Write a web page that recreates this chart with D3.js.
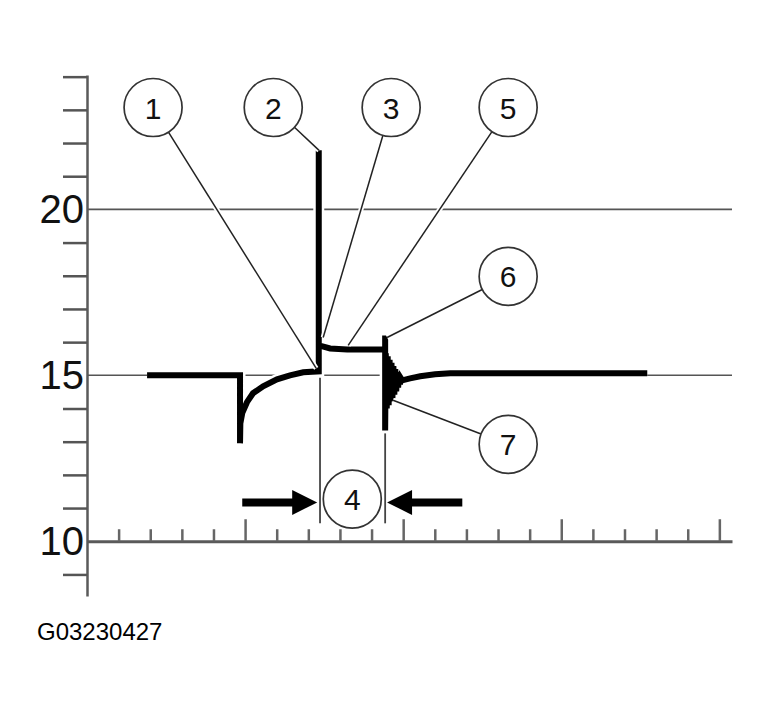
<!DOCTYPE html>
<html>
<head>
<meta charset="utf-8">
<script src="https://cdn.jsdelivr.net/npm/d3@7"></script>
<style>
  body { margin: 0; background: #fff; }
  svg { display: block; }
</style>
</head>
<body>
<div id="container"></div>
<script>
var width = 770, height = 717;

// axis ticks / labels
var yMinor = [9, 11, 12, 13, 14, 16, 17, 18, 19, 21, 22, 23, 24];
var yLabels = [10, 15, 20];
var gridVals = [15, 20];
var xMinor = [1, 2, 3, 4, 6, 7, 8, 9, 11, 12, 13, 14, 16, 17, 18, 19];
var xMajor = [5, 10, 15, 20];

// voltage trace (time in tick units, volts)
var traceT = [1.90, 4.84, 4.84, 4.85, 4.91, 5.06, 5.25, 5.57, 6.01, 6.42, 6.84, 7.33, 7.33, 7.33,
              7.45, 7.69, 8.23, 9.27, 9.43, 9.43, 9.43,
              9.45, 9.48, 9.51, 9.54, 9.57, 9.60, 9.63, 9.66, 9.69, 9.72, 9.75, 9.78, 9.81, 9.84, 9.87, 9.90, 9.93,
              9.97, 10.22, 10.54, 11.01, 11.49, 17.72];
var traceV = [15.0, 15.0, 12.95, 13.55, 13.86, 14.19, 14.46, 14.67, 14.88, 15.0, 15.09, 15.12, 21.78, 15.9,
              15.87, 15.81, 15.78, 15.78, 15.78, 16.2, 13.34,
              15.66, 14.0, 15.57, 14.1, 15.47, 14.21, 15.38, 14.31, 15.28, 14.42, 15.19, 14.52, 15.1, 14.63, 15.0, 14.73, 14.91,
              14.85, 14.91, 14.97, 15.03, 15.06, 15.06];

// numbered callouts: bubble centre and the point it points at
var calloutLabels = ["1", "2", "3", "5", "6", "7"];
var calloutAt = [[2.09, 23.07], [5.89, 23.07], [9.62, 23.07], [13.32, 23.07], [13.32, 17.98], [13.32, 12.92]];
var calloutTo = [[7.25, 15.21], [7.34, 21.78], [7.47, 16.14], [8.26, 15.9], [9.49, 16.14], [9.68, 14.25]];

// period marker (4)
var markerT = [7.37, 9.43];
var markerTop = [14.93, 13.25];
var markerBottom = 10.54;
var periodLabel = "4";
var periodAt = [8.39, 11.27];
var arrowV = 11.17;
var arrowLeft = [4.91, 7.28];
var arrowRight = [11.87, 9.49];

var figId = "G03230427";

var svg = d3.select("#container").append("svg")
  .attr("width", width)
  .attr("height", height);
svg.append("rect").attr("width", width).attr("height", height).attr("fill", "#fff");

var x = d3.scaleLinear().domain([0, 20.4]).range([87, 732]);
var y = d3.scaleLinear().domain([8.35, 24.05]).range([596, 75]);

// grid lines
svg.selectAll(".grid")
  .data(gridVals)
  .enter().append("line")
  .attr("class", "grid")
  .attr("x1", x(0)).attr("x2", x(20.4))
  .attr("y1", d => y(d)).attr("y2", d => y(d))
  .attr("stroke", "#555").attr("stroke-width", 1.6);

// left axis
var yAxis = svg.append("g")
  .attr("transform", "translate(" + x(0) + ",0)")
  .call(d3.axisLeft(y).tickValues(yMinor).tickSize(24).tickSizeOuter(0).tickFormat(""));
yAxis.select(".domain").attr("stroke", "#5a5a5a").attr("stroke-width", 2.5);
yAxis.selectAll(".tick line").attr("stroke", "#555").attr("stroke-width", 2.5);

svg.selectAll(".ylab")
  .data(yLabels)
  .enter().append("text")
  .attr("class", "ylab")
  .attr("x", 84)
  .attr("y", d => y(d) + 14)
  .attr("text-anchor", "end")
  .attr("font-family", "Liberation Sans, Arial, sans-serif")
  .attr("font-size", 40)
  .attr("fill", "#111")
  .text(d => d);

// bottom axis (ticks point up)
var xAxis = svg.append("g")
  .attr("transform", "translate(0," + y(10) + ")")
  .call(d3.axisTop(x).tickValues(xMinor).tickSize(12).tickSizeOuter(0).tickFormat(""));
xAxis.select(".domain").attr("stroke", "#5a5a5a").attr("stroke-width", 3);
xAxis.selectAll(".tick line").attr("stroke", "#666").attr("stroke-width", 2.5);

var xAxisMajor = svg.append("g")
  .attr("transform", "translate(0," + y(10) + ")")
  .call(d3.axisTop(x).tickValues(xMajor).tickSize(22).tickFormat(""));
xAxisMajor.select(".domain").remove();
xAxisMajor.selectAll(".tick line").attr("stroke", "#666").attr("stroke-width", 2.5);

// thin marker lines for the period
svg.selectAll(".marker")
  .data(markerT)
  .enter().append("line")
  .attr("class", "marker")
  .attr("x1", d => x(d)).attr("x2", d => x(d))
  .attr("y1", (d, i) => y(markerTop[i])).attr("y2", y(markerBottom))
  .attr("stroke", "#444").attr("stroke-width", 1.8);

// trace
var tracePts = traceT.map((t, i) => [t, traceV[i]]);
var line = d3.line().x(d => x(d[0])).y(d => y(d[1]));

svg.append("path")
  .attr("d", line(tracePts))
  .attr("fill", "none")
  .attr("stroke", "#fff")
  .attr("stroke-width", 11);
svg.append("path")
  .attr("d", line(tracePts))
  .attr("fill", "none")
  .attr("stroke", "#000")
  .attr("stroke-width", 6)
  .attr("stroke-linejoin", "miter");

// callouts
var r = 29;
var lead = calloutAt.map(function(c, i) {
  var cx = x(c[0]), cy = y(c[1]);
  var tx = x(calloutTo[i][0]), ty = y(calloutTo[i][1]);
  var dx = tx - cx, dy = ty - cy, len = Math.sqrt(dx * dx + dy * dy);
  return {x1: cx + r * dx / len, y1: cy + r * dy / len, x2: tx, y2: ty};
});

svg.selectAll(".leadHalo")
  .data(lead)
  .enter().append("line")
  .attr("x1", d => d.x1).attr("y1", d => d.y1)
  .attr("x2", d => d.x2).attr("y2", d => d.y2)
  .attr("stroke", "#fff").attr("stroke-width", 5);
svg.selectAll(".lead")
  .data(lead)
  .enter().append("line")
  .attr("x1", d => d.x1).attr("y1", d => d.y1)
  .attr("x2", d => d.x2).attr("y2", d => d.y2)
  .attr("stroke", "#222").attr("stroke-width", 1.5);

var bubbles = calloutAt.map((c, i) => ({t: c[0], v: c[1], label: calloutLabels[i]}));
bubbles.push({t: periodAt[0], v: periodAt[1], label: periodLabel});

var b = svg.selectAll(".bubble")
  .data(bubbles)
  .enter().append("g")
  .attr("transform", d => "translate(" + x(d.t) + "," + y(d.v) + ")");
b.append("circle")
  .attr("r", r)
  .attr("fill", "#fff")
  .attr("stroke", "#333")
  .attr("stroke-width", 1.7);
b.append("text")
  .attr("text-anchor", "middle")
  .attr("y", 11)
  .attr("font-family", "Liberation Sans, Arial, sans-serif")
  .attr("font-size", 30)
  .attr("fill", "#111")
  .text(d => d.label);

// dimension arrows
function arrow(from, to) {
  var x0 = x(from), x1 = x(to), yy = y(arrowV);
  var dir = x1 > x0 ? 1 : -1;
  var headLen = 25, headHalf = 12.5;
  svg.append("line")
    .attr("x1", x0).attr("x2", x1 - dir * (headLen - 2))
    .attr("y1", yy).attr("y2", yy)
    .attr("stroke", "#000").attr("stroke-width", 8);
  svg.append("path")
    .attr("d", "M" + x1 + "," + yy +
      "L" + (x1 - dir * headLen) + "," + (yy - headHalf) +
      "L" + (x1 - dir * headLen) + "," + (yy + headHalf) + "Z")
    .attr("fill", "#000");
}
arrow(arrowLeft[0], arrowLeft[1]);
arrow(arrowRight[0], arrowRight[1]);

svg.append("text")
  .attr("x", 37)
  .attr("y", 640)
  .attr("font-family", "Liberation Sans, Arial, sans-serif")
  .attr("font-size", 24)
  .attr("fill", "#000")
  .text(figId);
</script>
</body>
</html>
